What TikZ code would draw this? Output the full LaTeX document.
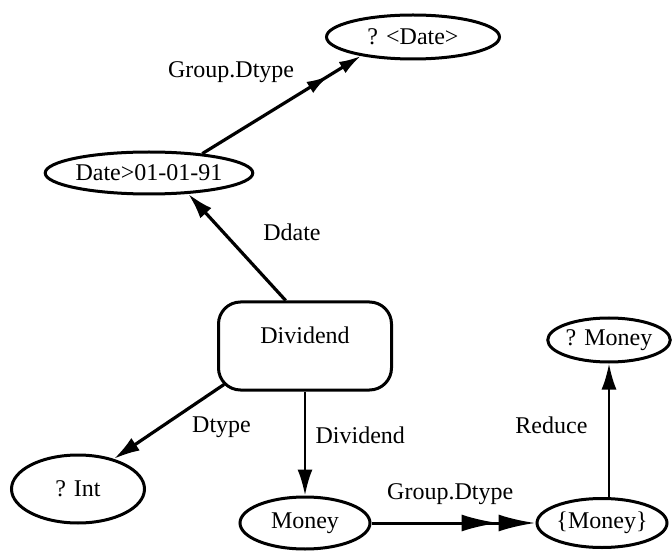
\documentclass[tikz,border=0pt]{standalone}
\usepackage{fontspec}
\setmainfont{Liberation Serif}
\usepackage{tikz}
\usetikzlibrary{arrows.meta, positioning, shapes.geometric}
\tikzstyle{link} = [line width=3.2pt, -{Latex[length=26pt,width=15pt]}]
\tikzstyle{grouplink} = [line width=3.2pt, -{Latex[length=22pt,width=13pt,sep=16pt]Latex[length=22pt,width=13pt]}]
\tikzstyle{grouplinkwide} = [line width=3pt, -{Latex[length=37pt,width=17pt]Latex[length=37pt,width=17pt]}]
\tikzstyle{blob} = [ellipse, draw=black, line width=3pt, inner sep=0pt]
\tikzstyle{record} = [rectangle, rounded corners=22pt, draw=black, line width=3pt, minimum width=173pt, minimum height=88pt, text depth=22pt]
\begin{document}
\begin{tikzpicture}[x=1pt, y=-1pt, every node/.style={font=\fontsize{24pt}{28pt}\selectfont}]
\useasboundingbox (0,0) rectangle (672,553);
%----------------------------------------------------------------------------
% Placement of nodes
\node (dateq) [blob, minimum width=173pt, minimum height=44pt] at (413,37) {? <Date>};
\node (datecond) [blob, minimum width=192pt, minimum height=42pt] at (149,173) {Date>01-01-91};

\node (dividend) [record] at (305,346) {Dividend};
\node (intq) [blob, minimum width=133pt, minimum height=68pt] at (78,489) {? Int};
\node (money) [blob, below of=dividend, node distance=177pt, minimum width=130pt, minimum height=52pt] {Money};

\node (moneyset) [blob, right of=money, node distance=297pt, minimum width=130pt, minimum height=49pt] {\{Money\}};
\node (moneyq) [blob, minimum width=120pt, minimum height=44pt] at (609,340) {? Money};

%----------------------------------------------------------------------------
% Lines
\draw [grouplink] (datecond.20) -- (dateq.200) node[pos=0.61, above left=6pt and 0pt] (lblgroupdate) {Group.Dtype};
\draw [link] (dividend.113) -- (datecond.-28) node[pos=0.64, right=35pt] (lblddate) {Ddate};

\draw [link] ([xshift=7pt, yshift=7pt] dividend.south west) -- (intq.40) node[pos=0.57, right=26pt] (lbldtype) {Dtype};
\draw [link, line width=2.5pt] (dividend) -- (money) node[pos=0.42, right=6pt] (lbldividend) {Dividend};

\draw [grouplinkwide] (money) -- (moneyset) node[pos=0.48, above=13pt] (lblgroupmoney) {Group.Dtype};
\draw [link, line width=2.5pt] (moneyq |- moneyset.north) -- (moneyq) node[pos=0.54, left=17pt] (lblreduce) {Reduce};

\end{tikzpicture}
\end{document}
